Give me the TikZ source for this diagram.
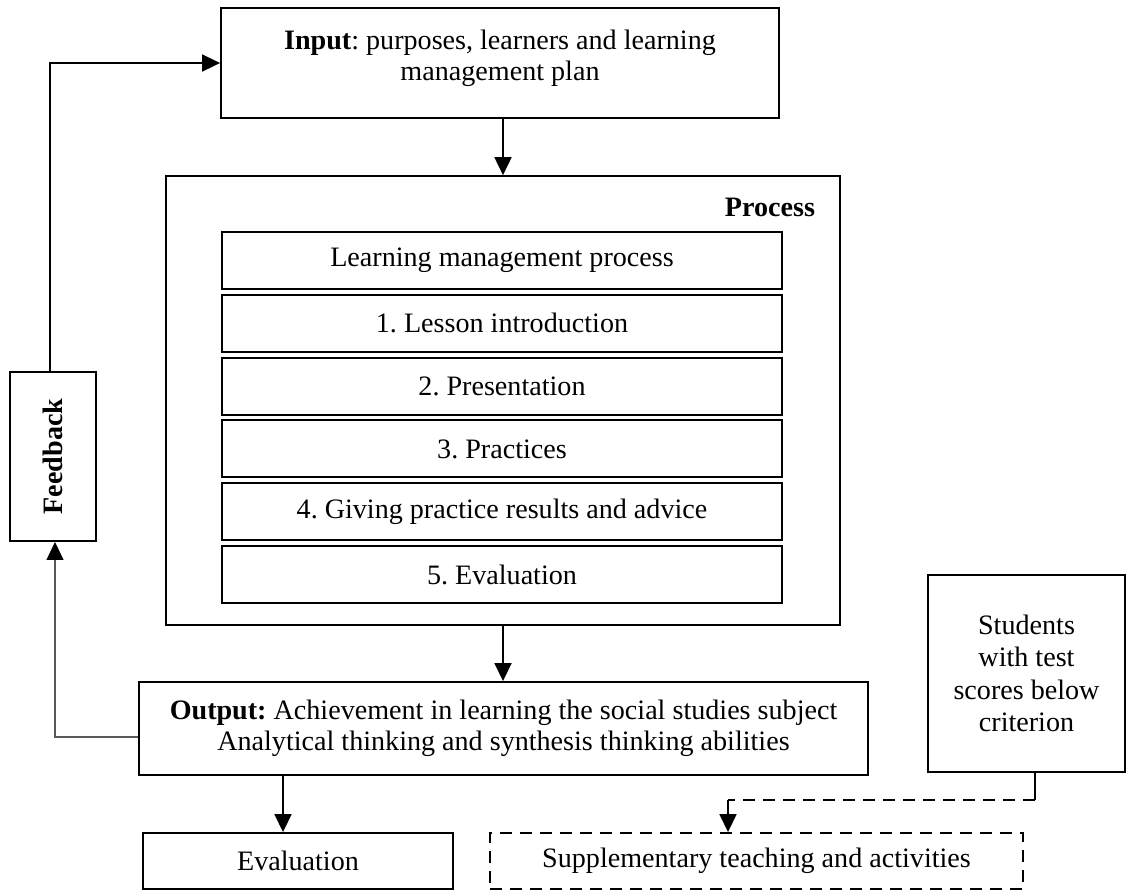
\documentclass[tikz,border=0pt]{standalone}
\usepackage{fontspec}
\setmainfont{Liberation Serif}
\usetikzlibrary{arrows.meta}
\frenchspacing

\begin{document}
\begin{tikzpicture}[x=0.02cm, y=-0.02cm,
    font=\fontsize{16}{17.6}\selectfont,
    box/.style={draw, rectangle, line width=1.1pt, inner sep=0pt},
    arr/.style={-{Triangle[length=0.36cm, width=0.34cm]}, line width=1pt},
    dashline/.style={dash pattern=on 0.24cm off 0.16cm, line width=1.1pt}]
    \useasboundingbox (0,0) rectangle (1131,890);

    % 输入
    \node[box, minimum width=11.16cm, minimum height=2.2cm] (input) at (500,63) {};
    \node[align=center] (inputtext) at (500,58) {\textbf{Input}: purposes, learners and learning\\management plan};

    % 过程
    \node[box, line width=1pt, minimum width=13.48cm, minimum height=8.98cm] (process) at (503,400.5) {};
    \node (processlabel) at (770,207) {\textbf{Process}};

    % 过程内部
    \foreach \txt [count=\i from 0] in {Learning management process, 1. Lesson introduction,
        2. Presentation, 3. Practices, 4. Giving practice results and advice, 5. Evaluation}
        \node[box, minimum width=11.2cm, minimum height=1.14cm] (step\i) at (502,260.5+62.8*\i) {\txt};

    % 输出
    \node[box, align=center, minimum width=14.58cm, minimum height=1.86cm] (output) at (503.5,728.5)
        {\textbf{Output:} Achievement in learning the social studies subject\\Analytical thinking and synthesis thinking abilities};

    % 反馈
    \node[box, minimum width=1.72cm, minimum height=3.38cm] (feedback) at (53,456.5) {\rotatebox{90}{\textbf{Feedback}}};

    % 评价
    \node[box, minimum width=6.2cm, minimum height=1.12cm] (eval) at (298,861) {Evaluation};
    \node[box, align=center, minimum width=3.94cm, minimum height=3.94cm] (students) at (1026.5,673.5)
        {Students\\[0.03cm]with test\\[0.03cm]scores below\\[0.03cm]criterion};
    \node[box, dashline, minimum width=10.66cm, minimum height=1.12cm] (supp) at (756.5,861)
        {Supplementary teaching and activities};

    % 箭头
    \draw[arr] (input.south -| process.north) -- (process.north);
    \draw[arr] (process.south) -- (process.south |- output.north);
    \draw[arr] ([xshift=-0.3cm]eval.north |- output.south) -- ([xshift=-0.3cm]eval.north);
    \draw[arr] ([xshift=-0.06cm]feedback.north) |- (input.west);
    \draw[-{Triangle[length=0.36cm, width=0.34cm, color=black]}, gray!70!black, line width=0.6pt]
        ([yshift=-0.17cm]output.west) -| ([xshift=0.04cm]feedback.south);

    % 虚线
    \coordinate (sbend) at (1035,800);
    \coordinate (tbend) at (728,800);
    \draw[line width=1.1pt] (students.south -| sbend) -- (sbend);
    \draw[dashline] (sbend) -- (tbend);
    \draw[arr] (tbend) -- (tbend |- supp.north);
  \end{tikzpicture}
\end{document}
